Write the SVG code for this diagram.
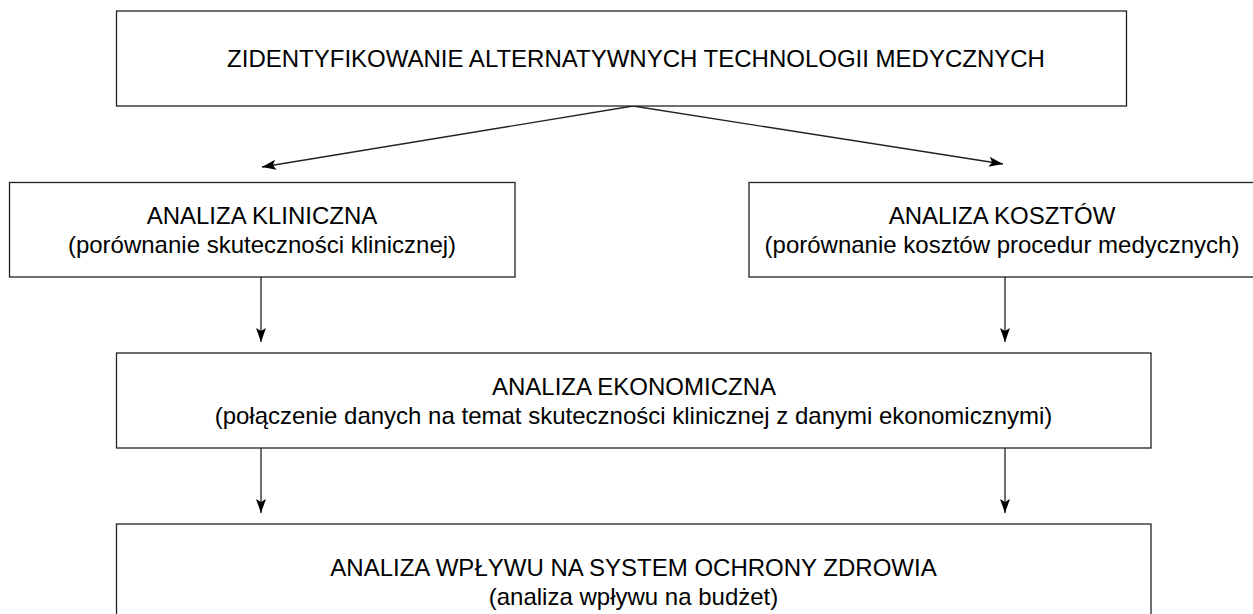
<svg xmlns="http://www.w3.org/2000/svg" width="1253" height="614" viewBox="0 0 1253 614">
<style>
.box{fill:#fff;stroke:#222;stroke-width:1.3}
.t{font-family:"Liberation Sans",Arial,sans-serif;font-size:24px;fill:#000;text-anchor:middle}
.c{stroke:#222;stroke-width:1.3;fill:none}
</style>
<defs>
<marker id="ah" viewBox="0 0 14 10" refX="14" refY="5" markerWidth="14" markerHeight="10" markerUnits="userSpaceOnUse" orient="auto">
<path d="M0,0 L14,5 L0,10 L3,5 Z" fill="#000"/>
</marker>
</defs>
<rect width="1253" height="614" fill="#fff"/>
<g id="connectors">
<line class="c" x1="633" y1="106" x2="262" y2="167" marker-end="url(#ah)"/>
<line class="c" x1="633" y1="106" x2="1003" y2="164" marker-end="url(#ah)"/>
<line class="c" x1="261" y1="277" x2="261" y2="342" marker-end="url(#ah)"/>
<line class="c" x1="1005" y1="277" x2="1005" y2="342" marker-end="url(#ah)"/>
<line class="c" x1="261" y1="448" x2="261" y2="513" marker-end="url(#ah)"/>
<line class="c" x1="1005" y1="448" x2="1005" y2="513" marker-end="url(#ah)"/>
</g>
<g id="node-top">
<rect class="box" x="116.5" y="11" width="1010" height="95"/>
<text class="t" x="636" y="67">ZIDENTYFIKOWANIE ALTERNATYWNYCH TECHNOLOGII MEDYCZNYCH</text>
</g>
<g id="node-kliniczna">
<rect class="box" x="9.5" y="182.5" width="505.5" height="94.5"/>
<text class="t" x="262" y="224">ANALIZA KLINICZNA</text>
<text class="t" x="262" y="253">(porównanie skuteczności klinicznej)</text>
</g>
<g id="node-koszty">
<rect class="box" x="749" y="182.5" width="506" height="94.5"/>
<text class="t" x="1002" y="224">ANALIZA KOSZTÓW</text>
<text class="t" x="1002" y="253">(porównanie kosztów procedur medycznych)</text>
</g>
<g id="node-ekonomiczna">
<rect class="box" x="116.5" y="353" width="1034.5" height="95"/>
<text class="t" x="634" y="394.5">ANALIZA EKONOMICZNA</text>
<text class="t" x="633.5" y="423.5">(połączenie danych na temat skuteczności klinicznej z danymi ekonomicznymi)</text>
</g>
<g id="node-wplyw">
<rect class="box" x="116.5" y="524" width="1034.5" height="110"/>
<text class="t" x="633.5" y="576">ANALIZA WPŁYWU NA SYSTEM OCHRONY ZDROWIA</text>
<text class="t" x="633.5" y="605">(analiza wpływu na budżet)</text>
</g>
</svg>
